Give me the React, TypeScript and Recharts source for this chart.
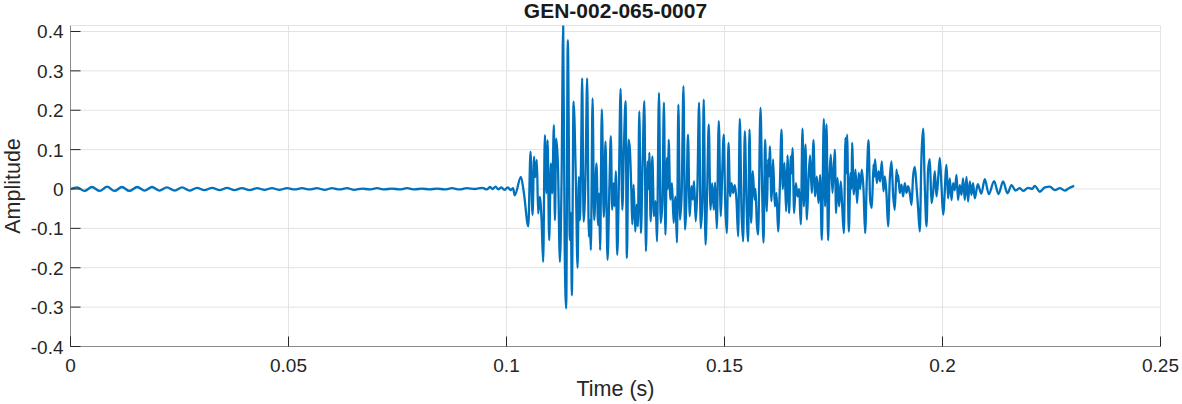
import { CartesianGrid, Line, LineChart, XAxis, YAxis } from "recharts";

const W = 1182;
const H = 404;
const BLUE = "#0072BD";
const FONT = 'Arial, "Liberation Sans", Helvetica, sans-serif';
const TEXT = "#262626";
const AXIS = "#8c8c8c";

const xTicks = [0, 0.05, 0.1, 0.15, 0.2, 0.25];
const yTicks = [-0.4, -0.3, -0.2, -0.1, 0, 0.1, 0.2, 0.3, 0.4];

// quiet part before the event (peaks / troughs of the small ripple)
const quietTime = [
  0, 0.0015, 0.0032, 0.0049, 0.0067, 0.0084, 0.0101, 0.0118, 0.0135, 0.0153,
  0.017, 0.0187, 0.0204, 0.0221, 0.0239, 0.0256, 0.0273, 0.029, 0.0307, 0.0325,
  0.0342, 0.0359, 0.0376, 0.0393, 0.0411, 0.0428, 0.0445, 0.0462, 0.0479, 0.0497,
  0.0514, 0.0531, 0.0548, 0.0565, 0.0583, 0.06, 0.0617, 0.0634, 0.0651, 0.0669,
  0.0686, 0.0703, 0.072, 0.0737, 0.0755, 0.0772, 0.0789, 0.0806, 0.0823, 0.0841,
  0.0858, 0.0875, 0.0892, 0.0909, 0.0927, 0.0944, 0.0955, 0.0962, 0.0968, 0.0975,
  0.0981, 0.0988, 0.0995, 0.1003, 0.101, 0.1015, 0.1019, 0.1033, 0.104, 0.105,
];
const quietAmp = [
  0, 0.004, -0.005, 0.005, -0.005, 0.006, -0.005, 0.005, -0.005, 0.005,
  -0.004, 0.005, -0.004, 0.004, -0.004, 0.004, -0.004, 0.003, -0.003, 0.003,
  -0.003, 0.003, -0.003, 0.002, -0.003, 0.002, -0.002, 0.002, -0.002, 0.002,
  -0.001, 0.002, -0.001, 0.002, -0.002, 0.002, -0.001, 0.002, -0.002, 0.001,
  -0.001, 0.002, -0.001, 0.001, -0.001, 0.002, -0.001, 0.001, -0.001, 0.001,
  -0.001, 0.002, -0.001, 0.002, 0, 0.003, -0.001, 0.005, 0, 0.006,
  -0.001, 0.004, -0.002, 0.004, -0.003, 0.002, -0.016, 0.031, -0.011, -0.095,
];

// strong shaking, read peak by peak
const eventTime = [
  0.10551, 0.10597, 0.10634, 0.10657, 0.10696, 0.10726, 0.10765, 0.10804, 0.10841, 0.1088,
  0.10919, 0.10942, 0.10979, 0.11018, 0.11048, 0.11087, 0.1111, 0.1114, 0.11179, 0.11225,
  0.11264, 0.113, 0.11333, 0.11369, 0.11406, 0.11453, 0.11476, 0.11499, 0.11538, 0.11591,
  0.1163, 0.1166, 0.11683, 0.11706, 0.11736, 0.11768, 0.11813, 0.1185, 0.11889, 0.11912,
  0.11935, 0.11974, 0.12011, 0.12064, 0.12101, 0.12124, 0.12147, 0.12186, 0.12232, 0.12271,
  0.12317, 0.12362, 0.12393, 0.12424, 0.12454, 0.12477, 0.12508, 0.12539, 0.12578, 0.12617,
  0.12656, 0.12692, 0.12731, 0.12761, 0.128, 0.1283, 0.12862, 0.12885, 0.12915, 0.12954,
  0.12984, 0.13014, 0.13046, 0.13083, 0.13122, 0.13161, 0.13198, 0.13237, 0.1326, 0.13276,
  0.13306, 0.13345, 0.13382, 0.13421, 0.13451, 0.13497, 0.13536, 0.13575, 0.13611, 0.13644,
  0.1368, 0.13703, 0.13719, 0.13758, 0.13795, 0.13834, 0.13873, 0.13909, 0.13942, 0.13979,
  0.14018, 0.14059, 0.14094, 0.14133, 0.14163, 0.14202, 0.14241, 0.14271, 0.14301, 0.1434,
  0.14379, 0.14416, 0.14455, 0.14494, 0.14524, 0.14564, 0.14601, 0.14639, 0.14679, 0.14716,
  0.14755, 0.14784, 0.14823, 0.14869, 0.14915, 0.14945, 0.14984, 0.15014, 0.15053, 0.15092,
  0.15129, 0.15161, 0.15198, 0.15237, 0.15276, 0.15313, 0.15351, 0.1539, 0.15427, 0.15466,
  0.15505, 0.15542, 0.15574, 0.1561, 0.15649, 0.15688, 0.15711, 0.15741, 0.15771, 0.15826,
  0.15863, 0.15895, 0.15932, 0.15971, 0.16, 0.16023, 0.16039, 0.16078, 0.16115, 0.16154,
  0.16193, 0.1623, 0.16268, 0.16307, 0.16337, 0.16376, 0.16413, 0.16445, 0.16482, 0.16521,
  0.16537, 0.1656, 0.16597, 0.16636, 0.16675, 0.16711, 0.1675, 0.16789, 0.16819, 0.16858,
  0.16888, 0.16927, 0.16963, 0.17002, 0.17041, 0.17078, 0.17117, 0.17156, 0.17193, 0.17232,
  0.17278, 0.17308, 0.1734, 0.17376, 0.17408, 0.17438, 0.17477, 0.1753, 0.1756, 0.17592,
  0.17629, 0.17668, 0.17698, 0.17737, 0.17776, 0.1779, 0.17812, 0.17851, 0.1789, 0.17913,
  0.17926, 0.17966, 0.18005, 0.18041, 0.1808, 0.1811, 0.18149, 0.18188, 0.18225, 0.18264,
  0.18303, 0.1834, 0.18379, 0.18418, 0.18431, 0.18454, 0.18493, 0.18532, 0.18569, 0.18608,
  0.18647, 0.18677, 0.18716, 0.18752, 0.18791, 0.1883, 0.18867, 0.18906, 0.18945, 0.18968,
  0.18982, 0.19021, 0.1906, 0.19097, 0.19135, 0.19174, 0.19211, 0.1925, 0.19289, 0.19326,
  0.19365, 0.19404, 0.1944, 0.19479, 0.19518, 0.19555, 0.19594, 0.19633, 0.1967, 0.19709,
  0.19748, 0.19784, 0.19823, 0.19862, 0.19899, 0.19938, 0.19977, 0.20014, 0.20092, 0.20128,
  0.20167, 0.20206, 0.20243, 0.20282, 0.20321, 0.20357, 0.20396, 0.20435, 0.20472, 0.20511,
  0.2055, 0.20587, 0.20626, 0.20665, 0.20701, 0.2074, 0.2081, 0.2089, 0.2097, 0.21062,
  0.21184, 0.21284, 0.2139, 0.21491, 0.21583, 0.21674, 0.21773, 0.2185, 0.21964, 0.22056,
  0.22118, 0.22232, 0.22347, 0.22462, 0.22576, 0.22691, 0.22806, 0.22898, 0.2302,
];
const eventAmp = [
  0.095, -0.066, 0.082, 0.03, 0.074, -0.062, -0.02, -0.077, -0.185, 0.137,
  -0.011, 0.124, -0.13, 0.065, -0.011, 0.162, -0.079, 0.128, 0.065, -0.185,
  0.031, 0.415, -0.134, -0.303, 0.378, -0.13, -0.06, -0.27, 0.222, 0.02,
  -0.2, 0.031, -0.079, 0.04, 0.281, -0.083, 0.04, 0.281, -0.121, -0.079,
  -0.155, 0.23, -0.079, 0.065, -0.092, -0.011, -0.155, 0.202, -0.071, 0.12,
  -0.18, 0.015, 0.134, -0.053, 0.015, -0.044, 0.045, -0.167, 0.015, 0.254,
  -0.053, 0.1, 0.223, -0.175, 0.125, 0.1, 0, -0.09, 0.011, -0.108,
  -0.04, -0.095, 0.197, -0.112, 0.066, 0.223, -0.158, 0.07, 0, 0.092,
  -0.082, 0.083, -0.069, -0.031, -0.133, 0.244, -0.086, -0.036, 0.219, -0.116,
  0.079, 0, 0.125, -0.027, 0.015, -0.086, -0.019, -0.136, 0.214, -0.078,
  -0.01, 0.261, -0.103, 0, 0.138, -0.069, 0.007, -0.027, 0.02, -0.082,
  0.007, 0.219, -0.1, -0.031, 0.227, -0.141, -0.01, 0.164, -0.053, 0.015,
  -0.053, 0.017, -0.1, 0.172, -0.069, 0.032, 0.138, -0.027, -0.112, 0.117,
  -0.019, 0.015, -0.01, 0.01, -0.031, -0.12, 0.178, -0.053, -0.133, 0.147,
  -0.036, -0.133, 0.151, -0.086, 0.045, -0.027, 0, -0.086, -0.116, 0.206,
  0, -0.136, 0.125, -0.057, 0.075, 0.032, 0.108, -0.031, 0.075, -0.044,
  -0.01, -0.108, 0, 0.151, 0, 0.066, -0.057, 0.085, -0.061, 0.083,
  0.04, 0.104, -0.061, 0.015, -0.019, 0, -0.09, 0.153, -0.044, 0.113,
  -0.078, 0.024, 0.085, -0.01, 0.124, -0.019, 0.032, -0.036, 0.036, -0.129,
  0.178, -0.044, 0.164, -0.13, 0.032, 0.087, -0.01, 0.1, -0.061, 0.028,
  -0.044, 0.019, -0.04, -0.112, 0.13, 0.04, 0.138, -0.108, 0.041, 0,
  0.117, -0.014, 0.049, -0.036, 0.041, 0, 0.049, 0, -0.112, 0.024,
  0.124, -0.027, -0.048, 0.062, 0.03, 0.075, 0.015, 0.045, 0.019, 0.07,
  -0.006, 0.032, -0.014, -0.095, 0.024, 0.07, -0.014, -0.053, 0.049, 0.02,
  0.036, -0.01, 0.011, -0.019, 0.015, -0.01, 0.007, -0.01, -0.04, 0.032,
  0.056, 0.007, -0.048, -0.108, 0.083, 0.153, 0.007, -0.095, 0.049, 0.076,
  -0.036, -0.01, 0.045, -0.019, 0.024, 0.079, 0.007, -0.065, 0.061, -0.024,
  0.027, -0.028, 0.015, -0.003, 0.036, -0.028, 0.01, -0.015, 0.027, -0.028,
  0.031, -0.032, 0.019, -0.015, 0.015, -0.024, 0.012, -0.012, 0.025, -0.013,
  0.02, -0.013, 0.019, -0.011, 0.01, -0.004, 0.002, -0.005, 0.003, 0,
  0.008, -0.007, 0.004, 0.006, -0.003, 0.002, -0.004, 0.002, 0.008,
];

const timeS = [...quietTime, ...eventTime];
const amplitude = [...quietAmp, ...eventAmp];
const points = timeS.map((t, i) => ({ t, a: amplitude[i] }));

const BottomTick = (props: any) => {
  const { x, y, payload } = props;
  return (
    <g>
      <line x1={x} x2={x} y1={y} y2={y - 10} stroke={TEXT} />
      <text x={x} y={y + 25} textAnchor="middle" fontSize={19} fontFamily={FONT} fill={TEXT}>
        {payload.value}
      </text>
    </g>
  );
};

const LeftTick = (props: any) => {
  const { x, y, payload } = props;
  return (
    <g>
      <line x1={x} x2={x + 10} y1={y} y2={y} stroke={TEXT} />
      <text x={x - 7} y={y + 7} textAnchor="end" fontSize={19} fontFamily={FONT} fill={TEXT}>
        {payload.value}
      </text>
    </g>
  );
};

const TopTick = (props: any) => (
  <line x1={props.x} x2={props.x} y1={props.y} y2={props.y + 10} stroke={TEXT} />
);

const RightTick = (props: any) => (
  <line x1={props.x} x2={props.x - 10} y1={props.y} y2={props.y} stroke={TEXT} />
);

export default function App() {
  return (
    <div style={{ position: "fixed", left: 0, top: 0, width: W, height: H, background: "#fff" }}>
      <LineChart
        width={W}
        height={H}
        data={points}
        margin={{ top: 25.5, right: 21.5, bottom: 27.5, left: 0 }}
      >
        <CartesianGrid stroke="#e3e3e3" />
        <XAxis
          dataKey="t"
          type="number"
          domain={[0, 0.25]}
          ticks={xTicks}
          interval={0}
          height={30}
          tickSize={0}
          tickMargin={0}
          tick={BottomTick}
          axisLine={{ stroke: AXIS }}
        />
        <XAxis
          xAxisId="top"
          orientation="top"
          type="number"
          domain={[0, 0.25]}
          ticks={xTicks}
          interval={0}
          height={0}
          tickSize={0}
          tickMargin={0}
          tick={TopTick}
          axisLine={{ stroke: AXIS }}
        />
        <YAxis
          type="number"
          domain={[-0.4, 0.4152]}
          allowDataOverflow
          ticks={yTicks}
          interval={0}
          width={70.5}
          tickSize={0}
          tickMargin={0}
          tick={LeftTick}
          axisLine={{ stroke: AXIS }}
        />
        <YAxis
          yAxisId="right"
          orientation="right"
          type="number"
          domain={[-0.4, 0.4152]}
          allowDataOverflow
          ticks={yTicks}
          interval={0}
          width={0}
          tickSize={0}
          tickMargin={0}
          tick={RightTick}
          axisLine={{ stroke: AXIS }}
        />
        <Line
          type="monotone"
          dataKey="a"
          stroke={BLUE}
          strokeWidth={2.3}
          dot={false}
          isAnimationActive={false}
        />
      </LineChart>
      <svg
        width={W}
        height={H}
        style={{ position: "absolute", left: 0, top: 0, pointerEvents: "none" }}
      >
        <text x={615.5} y={18} textAnchor="middle" fontSize={21} fontWeight="bold" fontFamily={FONT} fill="#1a1a1a">
          GEN-002-065-0007
        </text>
        <text x={615.5} y={396} textAnchor="middle" fontSize={21.5} fontFamily={FONT} fill={TEXT}>
          Time (s)
        </text>
        <text
          x={20}
          y={186}
          textAnchor="middle"
          fontSize={21.5}
          fontFamily={FONT}
          fill={TEXT}
          transform="rotate(-90 20 186)"
        >
          Amplitude
        </text>
      </svg>
    </div>
  );
}
